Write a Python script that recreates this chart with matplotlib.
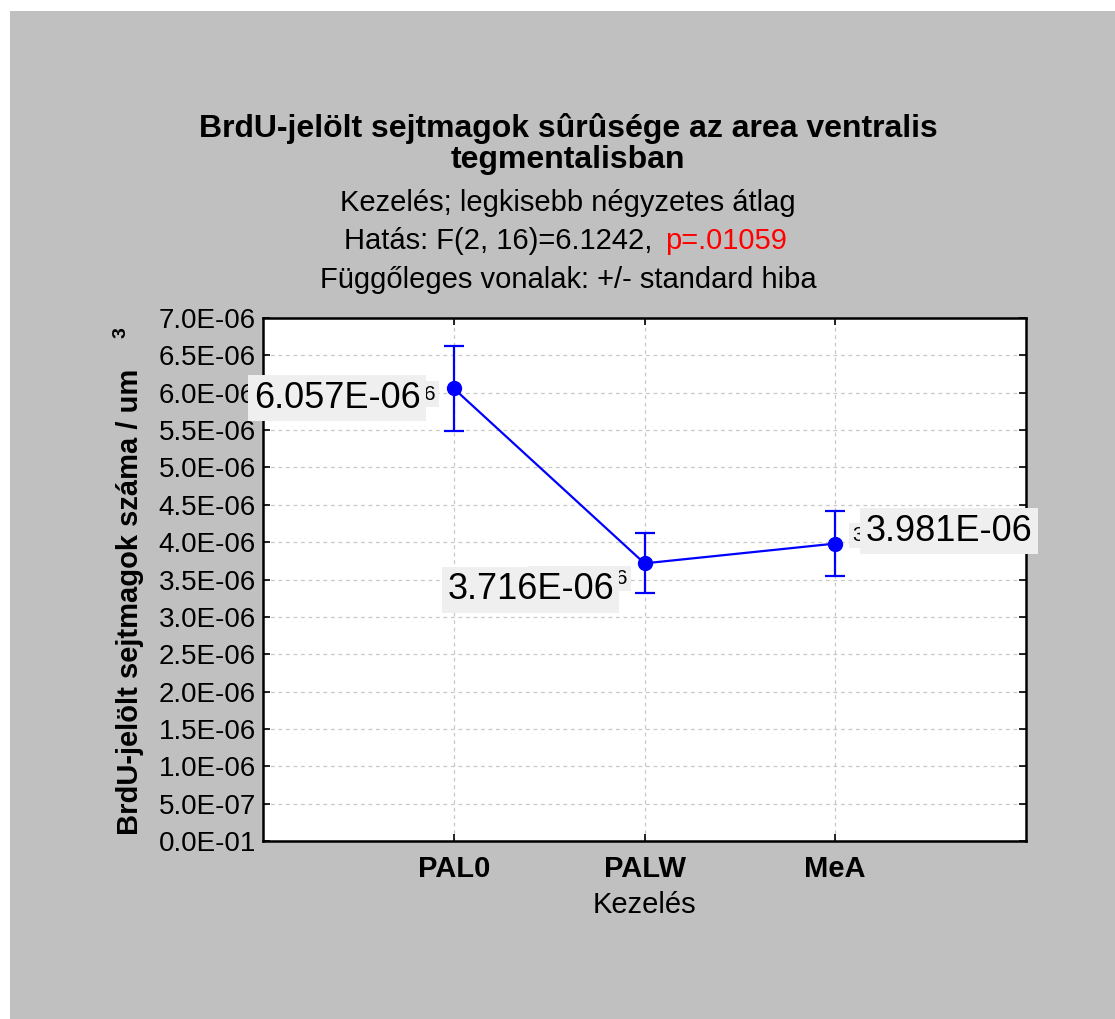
import matplotlib
matplotlib.use("Agg")
import matplotlib.pyplot as plt
from matplotlib.patches import Rectangle
from matplotlib.ticker import MultipleLocator, FuncFormatter

plt.rcParams["font.family"] = ["Liberation Sans", "DejaVu Sans"]

# least-squares means per treatment group, with standard errors
groups = ["PAL0", "PALW", "MeA"]
means = [6.057e-06, 3.716e-06, 3.981e-06]
std_err = [0.57e-06, 0.40e-06, 0.43e-06]
value_labels = ["6.057E-06", "3.716E-06", "3.981E-06"]

# label offsets (points) for the big value boxes and the small ones behind them
big_offsets = [(-84, -7), (-82, -19), (82, 9)]
small_offsets = [(-48, -4), (-47, -11), (47, 6)]

W, H = 1115, 1019
fig = plt.figure(figsize=(W / 100, H / 100), dpi=100, facecolor="white")
fig.patches.append(Rectangle((10 / W, 0), 1, (H - 11) / H, transform=fig.transFigure,
                             facecolor="#c0c0c0", edgecolor="none", zorder=-10))

ax = fig.add_axes([263 / W, (H - 841) / H, (1026 - 263) / W, (841 - 318) / H])
ax.set_facecolor("white")

x = list(range(len(groups)))
ax.errorbar(x, means, yerr=std_err, color="#0000ff", lw=1.6, capsize=7, capthick=1.6,
            marker="o", markersize=10, zorder=5)

ax.set_xlim(-1, 3)
ax.set_ylim(0, 7e-06)
ax.set_xticks(x)
ax.set_xticklabels(groups, fontsize=21, fontweight="bold")
ax.yaxis.set_major_locator(MultipleLocator(5e-07))
ax.yaxis.set_major_formatter(FuncFormatter(
    lambda v, _: "0.0E-01" if v == 0 else f"{v:.1E}"))
ax.tick_params(axis="y", labelsize=20, pad=5)
ax.tick_params(axis="x", pad=10)
ax.tick_params(direction="in", length=5, width=1.2, top=True, right=True)
ax.grid(True, color="#c8c8c8", linestyle=(0, (3, 3)), lw=0.9)
ax.set_axisbelow(True)
for sp in ax.spines.values():
    sp.set_linewidth(1.8)
    sp.set_color("black")

for xi, yi, txt, so, bo in zip(x, means, value_labels, small_offsets, big_offsets):
    ax.annotate(txt, (xi, yi), xytext=so, textcoords="offset points",
                ha="center", va="center", fontsize=15, zorder=6,
                bbox=dict(boxstyle="square,pad=0.15", fc="#efefef", ec="none"))
    ax.annotate(txt, (xi, yi), xytext=bo, textcoords="offset points",
                ha="center", va="center", fontsize=26, zorder=7,
                bbox=dict(boxstyle="square,pad=0.15", fc="#efefef", ec="none"))

ax.set_xlabel("Kezelés", fontsize=21, labelpad=6)

# y axis title, with the exponent set apart at the top
fig.text(130 / W, (H - 602) / H, "BrdU-jelölt sejtmagok száma / um", rotation=90,
         ha="center", va="center", fontsize=21, fontweight="bold")
fig.text(121 / W, (H - 333) / H, "3", rotation=90, ha="center", va="center",
         fontsize=14, fontweight="bold")

# titles
cx = 568 / W
fig.text(cx, (H - 128) / H, "BrdU-jelölt sejtmagok sûrûsége az area ventralis",
         ha="center", va="center", fontsize=23, fontweight="bold")
fig.text(cx, (H - 160) / H, "tegmentalisban",
         ha="center", va="center", fontsize=23, fontweight="bold")
fig.text(cx, (H - 203) / H, "Kezelés; legkisebb négyzetes átlag",
         ha="center", va="center", fontsize=21)
fig.text(652 / W, (H - 241) / H, "Hatás: F(2, 16)=6.1242,",
         ha="right", va="center", fontsize=21)
fig.text(665 / W, (H - 241) / H, "p=.01059",
         ha="left", va="center", fontsize=21, color="#ff0000")
fig.text(cx, (H - 280) / H, "Függőleges vonalak: +/- standard hiba",
         ha="center", va="center", fontsize=21)

fig.savefig("out.png", dpi=100, facecolor=fig.get_facecolor())
